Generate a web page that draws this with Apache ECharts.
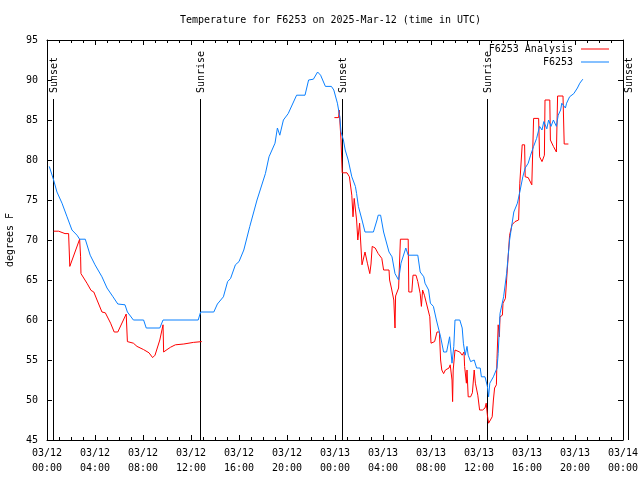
<!DOCTYPE html>
<html>
<head>
<meta charset="utf-8">
<script src="https://cdn.jsdelivr.net/npm/echarts@6/dist/echarts.min.js"></script>
<style>html,body{margin:0;padding:0;background:#fff}#c{width:640px;height:480px}</style>
</head>
<body>
<div id="c"></div>
<script>
// Hours since 2025-03-12 00:00 UTC
const obsHours = [0.19,0.55,0.83,1.25,1.67,2.08,2.5,2.72,3.19,3.6,4.0,4.58,5.0,5.5,5.9,6.5,6.7,7.2,8.05,8.27,9.4,9.67,12.6,12.8,13.9,14.2,14.7,15.05,15.3,15.7,16.0,16.4,16.9,17.5,18.2,18.5,19.0,19.2,19.4,19.7,20.1,20.8,21.5,21.8,22.2,22.55,22.8,23.2,23.7,23.9,24.2,24.4,24.5,24.7,24.85,25.1,25.4,25.7,25.8,25.95,26.25,26.5,27.2,27.5,27.6,27.8,28.05,28.5,28.75,29.0,29.3,29.5,29.9,30.1,30.9,31.1,31.4,31.5,31.8,31.95,32.2,32.45,32.8,33.05,33.3,33.55,33.75,33.9,34.0,34.4,34.6,34.7,34.85,35.0,35.1,35.3,35.6,35.8,36.1,36.2,36.5,36.7,36.8,36.9,37.2,37.5,37.6,37.75,38.05,38.3,38.55,38.9,39.2,39.4,39.65,39.85,40.1,40.3,40.55,40.8,41.05,41.25,41.4,41.65,41.8,42.0,42.2,42.45,42.6,42.8,42.9,43.2,43.3,43.55,43.9,44.2,44.4,44.65];
const obsTemp = [79.2,77.5,76.0,74.6,72.9,71.25,70.6,70.1,70.1,68.1,66.9,65.4,64.0,62.9,62.0,61.9,61.0,60.0,60.0,59.0,59.0,60.0,60.0,61.0,61.0,62.0,62.9,64.8,65.2,66.9,67.3,68.75,71.7,75.0,78.3,80.4,82.1,84.0,83.1,85.0,85.8,88.1,88.1,90.0,90.1,91.0,90.6,89.2,89.2,88.75,87.1,85.4,83.5,82.5,81.25,80.0,77.9,76.7,75.8,74.2,72.5,71.0,71.0,72.5,73.1,73.1,71.0,68.5,67.9,65.8,65.0,67.1,69.0,68.1,68.1,66.0,65.4,64.6,63.75,62.1,61.7,60.0,57.9,56.0,56.0,57.9,54.6,56.7,60.0,60.0,59.0,57.1,55.6,56.7,55.6,54.8,55.0,54.0,54.0,52.9,52.9,51.7,50.4,52.1,52.9,54.0,55.8,60.8,62.9,65.8,70.0,73.5,74.6,76.0,77.9,79.0,79.6,80.6,81.7,82.7,84.2,83.75,84.8,83.9,85.0,84.2,85.0,84.2,85.6,86.25,87.1,86.5,87.1,87.9,88.3,89.0,89.6,90.1];

const anaHours = [0.55,0.97,1.5,1.8,1.9,2.72,2.8,2.83,3.33,3.67,3.9,4.17,4.58,4.86,5.3,5.6,5.9,6.6,6.7,7.2,7.5,8.05,8.5,8.8,9.0,9.4,9.67,9.72,10.0,10.3,10.7,11.4,12.2,12.9,
  18.0,
  23.95,24.3,24.35,24.45,24.5,24.6,25.0,25.2,25.4,25.5,25.6,25.75,25.8,25.9,26.05,26.15,26.25,26.4,26.5,26.7,26.9,27.0,27.1,27.35,27.6,27.9,28.05,28.5,28.55,28.7,28.9,29.0,29.05,29.3,29.45,30.1,30.15,30.4,30.5,30.75,30.9,31.1,31.2,31.3,31.45,31.9,32.0,32.3,32.5,32.7,32.8,32.9,33.05,33.2,33.5,33.6,33.75,33.8,33.85,34.0,34.4,34.6,34.75,34.8,34.95,35.0,35.1,35.3,35.45,35.6,35.7,35.85,35.9,36.05,36.3,36.5,36.6,36.7,36.8,36.9,37.1,37.2,37.3,37.45,37.5,37.6,37.7,37.75,37.95,38.0,38.2,38.3,38.55,38.75,39.0,39.3,39.4,39.6,39.8,39.85,40.1,40.4,40.55,40.97,41.05,41.25,41.45,41.5,41.9,41.95,42.2,42.45,42.55,43.0,43.05,43.1,43.45];
const anaTemp = [71.1,71.1,70.8,70.8,66.7,70.1,67.9,65.8,64.6,63.7,63.5,62.5,61.0,60.9,59.6,58.5,58.5,60.75,57.3,57.1,56.7,56.3,55.9,55.3,55.6,57.5,59.4,56.0,56.3,56.6,56.9,57.0,57.2,57.3,
  null,
  85.3,85.3,86.25,86.5,82.5,78.4,78.4,77.9,75.6,72.9,75.2,75.2,72.5,70.0,72.1,72.1,66.9,66.9,68.5,67.1,65.8,67.0,69.2,69.0,68.3,67.7,66.25,66.25,65.0,64.0,62.5,59.0,63.0,64.0,70.1,70.1,63.5,63.5,65.6,65.6,64.8,63.3,61.7,63.75,63.1,60.4,57.1,57.3,58.5,58.5,55.0,53.75,53.3,53.75,54.0,54.4,52.5,49.8,53.75,56.25,56.0,55.6,56.0,54.2,52.1,53.75,50.4,50.4,50.9,53.75,52.1,52.1,50.6,48.75,48.75,49.0,49.6,48.1,47.1,47.3,47.9,50.0,51.5,51.9,55.2,59.4,57.9,60.4,60.6,62.1,62.7,65.0,70.6,71.9,72.3,72.5,77.1,81.9,81.9,77.9,77.8,76.9,85.2,85.2,80.4,79.8,80.6,87.5,87.5,82.5,81.7,81.0,88.0,88.0,85.0,82.0,82.0];

const sunHours = [0.52, 12.78, 24.56, 36.69, 48.44];
const sunLabels = ['Sunset', 'Sunrise', 'Sunset', 'Sunrise', 'Sunset'];

const xTickLabels = ['03/12\n00:00','03/12\n04:00','03/12\n08:00','03/12\n12:00','03/12\n16:00','03/12\n20:00','03/13\n00:00','03/13\n04:00','03/13\n08:00','03/13\n12:00','03/13\n16:00','03/13\n20:00','03/14\n00:00'];

const FONT = 'DejaVu Sans Mono';
const obsData = obsHours.map((h, i) => [h, obsTemp[i]]);
const anaData = anaHours.map((h, i) => [h, anaTemp[i] === null ? '-' : anaTemp[i]]);

const axisLineStyle = { lineStyle: { color: '#000', width: 1 } };
function xAx(pos, labels) {
  return {
    type: 'value', min: 0, max: 48, interval: 4, position: pos,
    axisLine: Object.assign({ show: true, onZero: false }, axisLineStyle),
    axisTick: { show: true, inside: true, length: 5, lineStyle: { color: '#000' } },
    minorTick: { show: true, splitNumber: 4, length: 3, lineStyle: { color: '#000' } },
    splitLine: { show: false },
    axisLabel: labels ? {
      show: true, fontFamily: FONT, fontSize: 10, color: '#000', lineHeight: 15, margin: 6,
      formatter: v => xTickLabels[Math.round(v / 4)]
    } : { show: false }
  };
}
function yAx(pos, labels) {
  return {
    type: 'value', min: 45, max: 95, interval: 5, position: pos,
    axisLine: Object.assign({ show: true, onZero: false }, axisLineStyle),
    axisTick: { show: true, inside: true, length: 5, lineStyle: { color: '#000' } },
    splitLine: { show: false },
    name: labels ? 'degrees F' : '',
    nameLocation: 'middle', nameGap: 32, nameRotate: 90,
    nameTextStyle: { fontFamily: FONT, fontSize: 10, color: '#000' },
    axisLabel: labels ? { show: true, fontFamily: FONT, fontSize: 10, color: '#000', margin: 9 } : { show: false }
  };
}

const chart = echarts.init(document.getElementById('c'), null, { renderer: 'canvas' });
chart.setOption({
  animation: false,
  backgroundColor: '#fff',
  title: {
    text: 'Temperature for F6253 on 2025-Mar-12 (time in UTC)',
    left: 180, top: 15, padding: 0,
    textStyle: { fontFamily: FONT, fontSize: 10, fontWeight: 'normal', color: '#000' }
  },
  grid: { left: 47, top: 40, width: 576, height: 400, containLabel: false, outerBoundsMode: 'none' },
  xAxis: [xAx('bottom', true), xAx('top', false)],
  yAxis: [yAx('left', true), yAx('right', false)],
  legend: [
    {
      data: ['F6253 Analysis'], orient: 'vertical', right: 31, top: 44, align: 'right',
      icon: 'rect', itemWidth: 28, itemHeight: 1, itemGap: 0, padding: 0,
      textStyle: { fontFamily: FONT, fontSize: 10, color: '#000', padding: [0, 3, 0, 0] }
    },
    {
      data: ['F6253'], orient: 'vertical', right: 31, top: 57, align: 'right',
      icon: 'rect', itemWidth: 28, itemHeight: 1, itemGap: 0, padding: 0,
      textStyle: { fontFamily: FONT, fontSize: 10, color: '#000', padding: [0, 3, 0, 0] }
    }
  ],
  series: [
    {
      type: 'custom', name: 'sun', clip: false, silent: true, z: 1,
      data: sunHours.map(h => [h, 45]),
      encode: { x: 0, y: 1 },
      renderItem: function (params, api) {
        const p = api.coord([api.value(0), 45]);
        const top = params.coordSys.y + 59;
        const x = Math.round(p[0]) + 0.5;
        return {
          type: 'group',
          children: [
            { type: 'line', shape: { x1: x, y1: top, x2: x, y2: p[1] }, style: { stroke: '#000', lineWidth: 1 } },
            { type: 'text', x: x + 1, y: top - 6, rotation: Math.PI / 2,
              style: { text: sunLabels[params.dataIndex], fill: '#000', font: '10px ' + FONT, align: 'left', verticalAlign: 'middle' } }
          ]
        };
      }
    },
    {
      type: 'line', name: 'F6253 Analysis', data: anaData, showSymbol: false, symbol: 'none',
      connectNulls: false, lineStyle: { color: '#ff0000', width: 1 }, itemStyle: { color: '#ff0000' }, z: 2
    },
    {
      type: 'line', name: 'F6253', data: obsData, showSymbol: false, symbol: 'none',
      lineStyle: { color: '#0a80ff', width: 1 }, itemStyle: { color: '#0a80ff' }, z: 3
    }
  ]
});
</script>
</body>
</html>
